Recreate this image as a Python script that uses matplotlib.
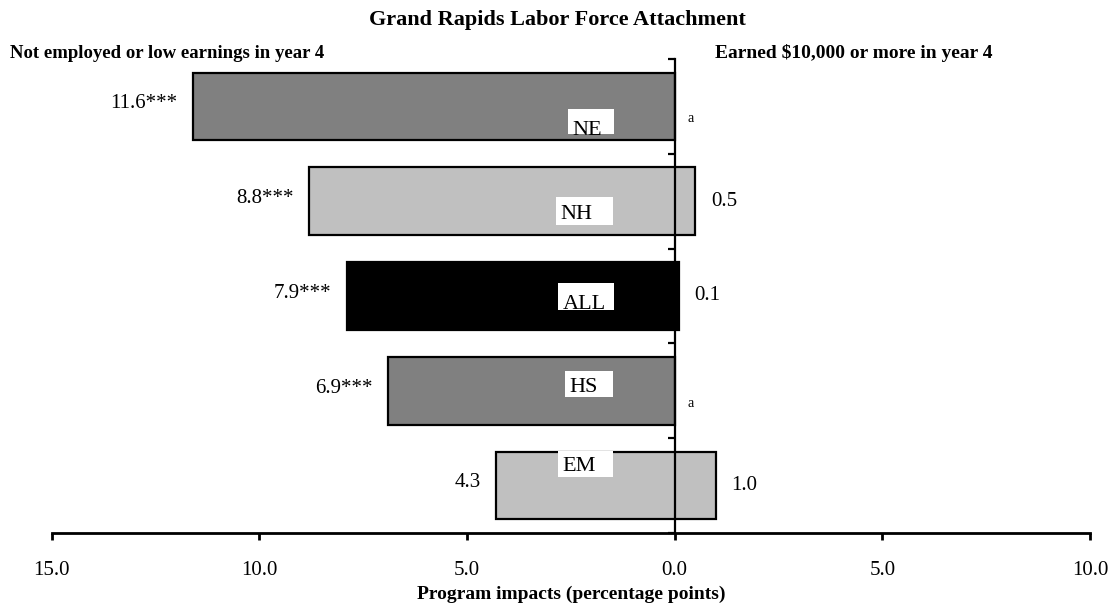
import matplotlib
matplotlib.use('Agg')
import matplotlib.pyplot as plt
from matplotlib.patches import Rectangle

plt.rcParams['font.family'] = ['Liberation Serif', 'DejaVu Serif']

# data
groups = ['NE', 'NH', 'ALL', 'HS', 'EM']
low_earn = [11.6, 8.8, 7.9, 6.9, 4.3]          # not employed / low earnings (left side)
high_earn = [0.0, 0.5, 0.1, 0.0, 1.0]          # earned $10,000 or more (right side)
left_labels = ['11.6***', '8.8***', '7.9***', '6.9***', '4.3']
right_labels = ['a', '0.5', '0.1', 'a', '1.0']
bar_colors = ['#808080', '#c0c0c0', '#000000', '#808080', '#c0c0c0']

xticks = [-15, -10, -5, 0, 5, 10]
xtick_labels = ['15.0', '10.0', '5.0', '0.0', '5.0', '10.0']

# white label boxes: (x0, x1, y0, y1, text_top)
boxes = [(-2.56, -1.46, 0.03, 0.29, 0.15),
         (-2.85, -1.49, 0.96, 1.25, 1.04),
         (-2.80, -1.46, 1.86, 2.15, 1.99),
         (-2.63, -1.49, 2.79, 3.07, 2.86),
         (-2.80, -1.49, 3.64, 3.91, 3.70)]

fig = plt.figure(figsize=(11.15, 6.12), dpi=100)
ax = fig.add_axes([0.0464, 0.1291, 0.9312, 0.7745])

ypos = list(range(len(groups)))
ax.barh(ypos, [l + r for l, r in zip(low_earn, high_earn)],
        left=[-l for l in low_earn], height=0.714,
        color=bar_colors, edgecolor='black', linewidth=1.6, zorder=2)

for i in ypos:
    x0, x1, y0, y1, ty = boxes[i]
    rect = Rectangle((x0, y0), x1 - x0, y1 - y0, facecolor='white',
                     edgecolor='none', zorder=3)
    ax.add_patch(rect)
    t = ax.text(x0 + 0.1, ty, groups[i], fontsize=16, va='top', ha='left', zorder=4)
    t.set_clip_path(rect)

    ax.annotate(left_labels[i], (-low_earn[i], i), xytext=(-11, 2),
                textcoords='offset points', ha='right', va='center', fontsize=15)
    if right_labels[i] == 'a':
        ax.annotate('a', (high_earn[i], i), xytext=(9, -9),
                    textcoords='offset points', ha='left', va='center', fontsize=10)
    else:
        ax.annotate(right_labels[i], (high_earn[i], i), xytext=(11, 0),
                    textcoords='offset points', ha='left', va='center', fontsize=15)

ax.set_xlim(-15, 10)
ax.set_ylim(4.5, -0.5)

ax.spines['top'].set_visible(False)
ax.spines['right'].set_visible(False)
ax.spines['left'].set_position(('data', 0))
ax.spines['left'].set_linewidth(1.6)
ax.spines['left'].set_zorder(5)
ax.spines['bottom'].set_linewidth(2)

ax.set_yticks([-0.5, 0.5, 1.5, 2.5, 3.5, 4.5])
ax.set_yticklabels([])
ax.tick_params(axis='y', direction='out', length=5, width=1.6)
ax.set_xticks(xticks)
ax.set_xticklabels(xtick_labels, fontsize=15)
ax.tick_params(axis='x', direction='out', length=5, width=2, pad=15)

ax.set_xlabel('Program impacts (percentage points)', fontsize=14, fontweight='bold', labelpad=4)

fig.text(0.5, 0.968, 'Grand Rapids Labor Force Attachment', ha='center', va='center',
         fontsize=16, fontweight='bold')
fig.text(0.009, 0.913, 'Not employed or low earnings in year 4', ha='left', va='center',
         fontsize=13.5, fontweight='bold')
fig.text(0.641, 0.913, 'Earned $10,000 or more in year 4', ha='left', va='center',
         fontsize=14, fontweight='bold')

fig.savefig('out.png', dpi=100)
